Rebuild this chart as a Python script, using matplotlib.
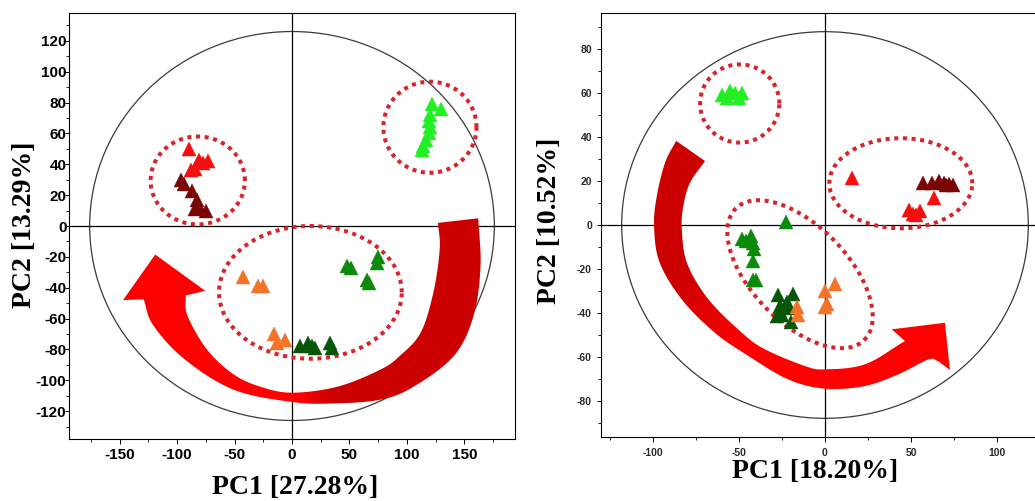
import numpy as np
import matplotlib
matplotlib.use("Agg")
import matplotlib.pyplot as plt
from matplotlib.patches import Ellipse, Polygon
from matplotlib.colors import LinearSegmentedColormap
from matplotlib.ticker import MultipleLocator

plt.rcParams["axes.unicode_minus"] = False

# ---------------- score data: panel A (PC1 27.28 %, PC2 13.29 %) ----------------
a_lime_x = [122, 130, 120, 119, 120, 119, 117, 114, 113]
a_lime_y = [79, 76, 72, 68, 64, 60, 56, 52, 49]
a_red_x = [-90, -81, -73, -88, -84, -77]
a_red_y = [50, 43, 42, 36, 37, 41]
a_maroon_x = [-97, -94, -87, -83, -81, -75, -84]
a_maroon_y = [30, 27, 23, 17, 12, 10, 11]
a_orange_x = [-43, -30, -25, -16, -13, -6]
a_orange_y = [-33, -39, -39, -70, -76, -74]
a_dkgreen_x = [7, 14, 17, 20, 33, 35]
a_dkgreen_y = [-78, -76, -78, -79, -76, -79]
a_green_x = [48, 51, 65, 67, 75, 74]
a_green_y = [-26, -27, -35, -37, -20, -24]

# ---------------- score data: panel B (PC1 18.20 %, PC2 10.52 %) ----------------
b_lime_x = [-60, -55, -52, -48, -57, -50]
b_lime_y = [59, 61, 60, 60, 58, 58]
b_maroon_x = [57, 62, 66, 69, 72, 74, 70]
b_maroon_y = [19, 19, 20, 19, 18.5, 18, 18]
b_red_x = [15.5, 63, 49, 55, 51, 53]
b_red_y = [21.5, 12.5, 7, 6.5, 5, 4.5]
b_green_x = [-48, -43, -42, -41, -42, -42, -40, -22.5, -46]
b_green_y = [-6.5, -5, -8, -11, -16.5, -25, -25, 1.5, -7.5]
b_dkgreen_x = [-27, -18.5, -26, -25, -21, -20, -28, -22]
b_dkgreen_y = [-32, -31.5, -37, -41, -38, -44, -41.5, -35]
b_orange_x = [-16.5, -15.5, 0, 6, 0, 1]
b_orange_y = [-37.5, -41, -30, -27, -37.5, -36]

axis_labels = [("PC1 [27.28%]", "PC2 [13.29%]"), ("PC1 [18.20%]", "PC2 [10.52%]")]

C_LIME = "#22F022"
C_GREEN = "#0B8A0B"
C_DKGREEN = "#075607"
C_ORANGE = "#F47328"
C_RED = "#F70D0D"
C_MAROON = "#7A0505"
C_DOT = "#D9232B"
ARROW_BRIGHT = "#FF0000"
ARROW_DARK = "#CC0000"


def smooth(pts, per=24):
    """Catmull-Rom spline through a list of points."""
    p = np.asarray(pts, float)
    p = np.vstack([2 * p[0] - p[1], p, 2 * p[-1] - p[-2]])
    t = np.linspace(0, 1, per, endpoint=False)[:, None]
    out = []
    for i in range(1, len(p) - 2):
        p0, p1, p2, p3 = p[i - 1], p[i], p[i + 1], p[i + 2]
        out.append(0.5 * (2 * p1 + (-p0 + p2) * t
                          + (2 * p0 - 5 * p1 + 4 * p2 - p3) * t ** 2
                          + (-p0 + 3 * p1 - 3 * p2 + p3) * t ** 3))
    out.append(p[-2][None])
    return np.vstack(out)


def dotted_ellipse(ax, c, u, v):
    t = np.linspace(0, 2 * np.pi, 400)
    x = c[0] + np.cos(t) * u[0] + np.sin(t) * v[0]
    y = c[1] + np.cos(t) * u[1] + np.sin(t) * v[1]
    ax.plot(x, y, color=C_DOT, lw=2.9, linestyle=(0, (1.0, 1.15)),
            dash_capstyle="butt", zorder=2)


def gradient_arrow(ax, outer, inner, head, field, extent):
    verts = np.vstack([smooth(outer), np.asarray(head, float), smooth(inner)[::-1]])
    patch = Polygon(verts, closed=True, facecolor="none", edgecolor="none")
    ax.add_patch(patch)
    cmap = LinearSegmentedColormap.from_list("arr", [ARROW_BRIGHT, ARROW_DARK])
    im = ax.imshow(field, extent=extent, origin="lower", cmap=cmap, vmin=0, vmax=1,
                   aspect="auto", interpolation="bilinear", zorder=1.5)
    im.set_clip_path(patch)


def style_axes(ax, xlim, ylim, xmaj, xmin, ymaj, ymin, fs, color, xpad, ypad):
    ax.set_xlim(*xlim)
    ax.set_ylim(*ylim)
    ax.xaxis.set_major_locator(MultipleLocator(xmaj))
    ax.xaxis.set_minor_locator(MultipleLocator(xmin))
    ax.yaxis.set_major_locator(MultipleLocator(ymaj))
    ax.yaxis.set_minor_locator(MultipleLocator(ymin))
    ax.tick_params(axis="x", which="major", length=3.5, width=0.7, pad=xpad)
    ax.tick_params(axis="y", which="major", length=3, width=0.7, pad=ypad)
    ax.tick_params(which="minor", length=2, width=0.6)
    for lab in ax.get_xticklabels() + ax.get_yticklabels():
        lab.set_fontfamily("Liberation Sans")
        lab.set_fontweight("bold")
        lab.set_fontsize(fs)
        lab.set_color(color)
    for s in ax.spines.values():
        s.set_linewidth(0.8)


fig = plt.figure(figsize=(10.35, 5.01), dpi=100)
ax1 = fig.add_axes([69 / 1035, 62 / 501, 446 / 1035, 426 / 501])
ax2 = fig.add_axes([601 / 1035, 64 / 501, 448 / 1035, 424 / 501])

# ---------------- panel A ----------------
xl1, yl1 = (-194, 194), (-138, 138)
ax1.add_patch(Ellipse((0, 0), 352, 252, fill=False, ec="#3a3a3a", lw=0.9, zorder=1))
ax1.axhline(0, color="k", lw=0.9, zorder=1)
ax1.axvline(0, color="k", lw=0.9, zorder=1)

gx, gy = np.meshgrid(np.linspace(*xl1, 300), np.linspace(*yl1, 300))
field1 = np.clip((gx - 5) / 30, 0, 1)
gradient_arrow(
    ax1,
    outer=[(162, 5), (164, -26), (158, -58), (141, -84), (106, -104), (77, -112.5),
           (35, -115), (0, -114), (-51, -106), (-94, -86), (-121, -64), (-129, -47.5)],
    inner=[(127, 2), (128.5, -15), (123, -43), (112, -69), (94, -84), (77, -93),
           (40, -104), (0, -108), (-28, -104), (-51, -96), (-74, -80), (-91, -58),
           (-92.5, -45)],
    head=[(-147, -48), (-119, -18.5), (-75.5, -42)],
    field=field1, extent=[*xl1, *yl1])

dotted_ellipse(ax1, (-82, 29.5), (41, 0), (0, 28.5))
dotted_ellipse(ax1, (120, 64), (40.5, 0), (0, 29.5))
dotted_ellipse(ax1, (16, -43), (79.5, 0), (0, 43))

ms1 = 9.5
for xs, ys, col in [(a_lime_x, a_lime_y, C_LIME), (a_maroon_x, a_maroon_y, C_MAROON),
                    (a_red_x, a_red_y, C_RED), (a_orange_x, a_orange_y, C_ORANGE),
                    (a_dkgreen_x, a_dkgreen_y, C_DKGREEN), (a_green_x, a_green_y, C_GREEN)]:
    ax1.plot(xs, ys, "^", color=col, ms=ms1, mec=col, mew=0.3, ls="none", zorder=3)

style_axes(ax1, xl1, yl1, 50, 25, 20, 10, 11, "black", 3, -1.2)

# ---------------- panel B ----------------
xl2, yl2 = (-130, 130), (-96.5, 96.5)
ax2.add_patch(Ellipse((0, 0), 236, 176, fill=False, ec="#3a3a3a", lw=0.9, zorder=1))
ax2.axhline(0, color="k", lw=0.9, zorder=1)
ax2.axvline(0, color="k", lw=0.9, zorder=1)

hx, hy = np.meshgrid(np.linspace(*xl2, 300), np.linspace(*yl2, 300))
theta = np.degrees(np.arctan2(hy / 88, hx / 118)) % 360
field2 = np.clip((240 - theta) / 40, 0, 1)
gradient_arrow(
    ax2,
    outer=[(-86.4, 38.3), (-92.8, 28.4), (-97.6, 13.2), (-99.2, -0.5), (-96, -17),
           (-83, -34), (-64, -49), (-44.5, -59.6), (-21.3, -70.3), (0, -74.5),
           (23, -73.3), (42.5, -68), (60, -61.2), (65.7, -62)],
    inner=[(-69.6, 29.1), (-78.3, 19.3), (-82.2, 8.7), (-83.1, -2), (-80, -17.5),
           (-67.7, -33.8), (-48.3, -49), (-34.8, -56.6), (-11.6, -64.2), (0, -65.7),
           (23.2, -63.4), (46.4, -52.8)],
    head=[(72.5, -66), (69.6, -44.5), (38.7, -47.5)],
    field=field2, extent=[*xl2, *yl2])

dotted_ellipse(ax2, (-49.5, 55.3), (23, 0), (0, 17.8))
dotted_ellipse(ax2, (44, 19), (41.5, 0), (0, 20.5))
dotted_ellipse(ax2, (-14.5, -22.4), (37.2, -30), (19.9, 15.3))

ms2 = 10.5
for xs, ys, col in [(b_lime_x, b_lime_y, C_LIME), (b_maroon_x, b_maroon_y, C_MAROON),
                    (b_red_x, b_red_y, C_RED), (b_green_x, b_green_y, C_GREEN),
                    (b_dkgreen_x, b_dkgreen_y, C_DKGREEN), (b_orange_x, b_orange_y, C_ORANGE)]:
    ax2.plot(xs, ys, "^", color=col, ms=ms2, mec=col, mew=0.3, ls="none", zorder=3)

style_axes(ax2, xl2, yl2, 50, 25, 20, 10, 7.5, "#2a2a2a", 4.5, 3.5)

# ---------------- axis titles ----------------
title_font = dict(family="Liberation Serif", weight="bold", size=20)
fig.text(295 / 1035, 6.5 / 501, axis_labels[0][0], ha="center", va="baseline", **title_font)
fig.text(25 / 1035, 1 - 225 / 501, axis_labels[0][1], ha="center", va="center",
         rotation=90, **title_font)
fig.text(815 / 1035, 1 - 478.5 / 501, axis_labels[1][0], ha="center", va="baseline",
         **title_font)
fig.text(550 / 1035, 1 - 221 / 501, axis_labels[1][1], ha="center", va="center",
         rotation=90, **title_font)

fig.savefig("out.png", dpi=100)
